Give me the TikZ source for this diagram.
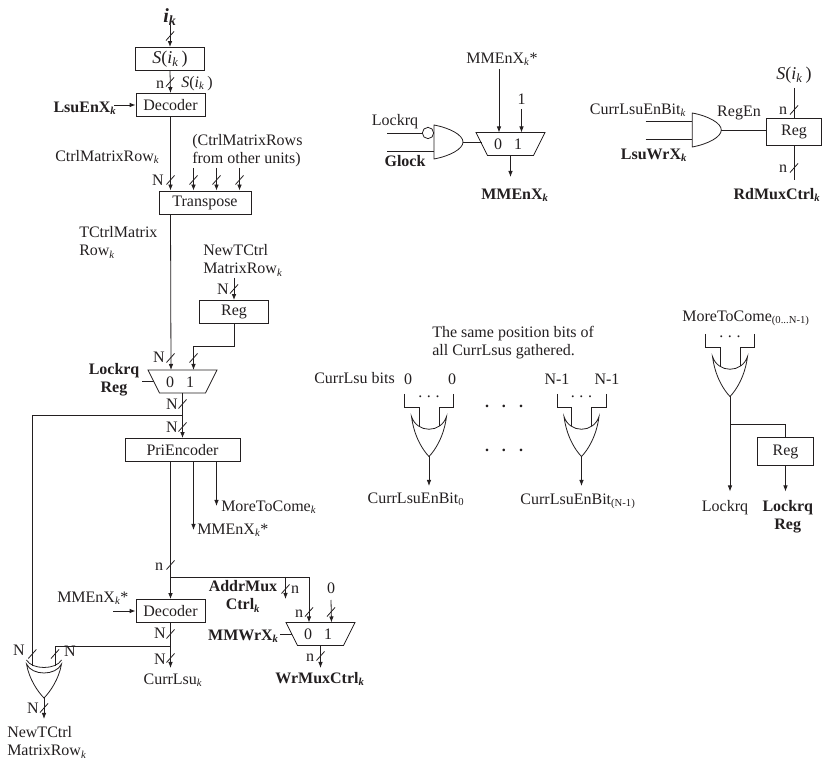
\documentclass[tikz,border=0pt]{standalone}
\usepackage{fontspec}
\setmainfont{Liberation Serif}
\usetikzlibrary{arrows.meta,calc}
\definecolor{ink}{RGB}{35,31,32}
\newcommand{\ksub}{\textsubscript{\itshape k}}
\newcommand{\sik}{\textit{S}(\textit{i}\ksub\,)}
\newcommand{\busslash}[1]{\draw[wire] ($(#1)+(-4,4.5)$) -- ($(#1)+(4,-4.5)$);}

\begin{document}
\begin{tikzpicture}[
    x=0.75pt, y=-0.75pt,
    font=\fontsize{12}{13.5}\selectfont,
    color=ink,
    >={Latex[length=4.5pt,width=3.4pt]},
    wire/.style={line width=0.6pt},
    arrow/.style={->, wire},
    unitbox/.style={draw, wire, inner sep=0pt, minimum width=51.75pt, minimum height=17.25pt},
    lbl/.style={inner sep=0pt, text height=8pt, text depth=0pt},
    llbl/.style={lbl, anchor=west},
    blbl/.style={lbl, font=\fontsize{12}{13.5}\selectfont\bfseries},
    twolines/.style={inner sep=0pt, align=left, anchor=west},
    boldtwo/.style={inner sep=0pt, align=center, font=\fontsize{12}{13.5}\selectfont\bfseries},
    inverted/.style={circle, draw, wire, inner sep=0pt, minimum size=8.5pt},
    mux/.pic={
        \draw[wire] (-34.5,0) -- (34.5,0) -- (23,23) -- (-23,23) -- cycle;
        \node[lbl] (-zero) at (-12.5,12) {0};
        \node[lbl] (-one) at (7.5,12) {1};
        \coordinate (-in0) at (-11.5,0);
        \coordinate (-in1) at (11,0);
        \coordinate (-out) at (0,23);
        \coordinate (-side) at (-29,11.5);
    },
    andgate/.pic={
        \draw[wire] (0,-17) .. controls (16,-14) and (29,-7) .. (29,0)
            .. controls (29,7) and (16,14) .. (0,17) -- cycle;
        \coordinate (-in1) at (0,-9);
        \coordinate (-in2) at (0,9);
        \coordinate (-out) at (29,0);
    },
    orgate/.pic={
        \draw[wire] (-17.5,0) .. controls (-12,17) and (12,17) .. (17.5,0)
            .. controls (15,20) and (6,34) .. (0,40)
            .. controls (-6,34) and (-15,20) .. (-17.5,0) -- cycle;
        \draw[wire] (-24.5,-22.5) -- (-24.5,-9) -- (-10,-9) -- (-10,10);
        \draw[wire] (24.5,-22.5) -- (24.5,-9) -- (10,-9) -- (10,10);
        \node[lbl] (-dots) at (0,-24) {.\hspace{3.5pt}.\hspace{3.5pt}.};
        \coordinate (-out) at (0,40);
    },
    widegate/.pic={
        \draw[wire] (-17.5,-1) .. controls (-12,9) and (12,9) .. (17.5,-1);
        \draw[wire] (-17.5,3) .. controls (-12,15) and (12,15) .. (17.5,3)
            .. controls (15,18) and (6,31) .. (0,37)
            .. controls (-6,31) and (-15,18) .. (-17.5,3) -- cycle;
        \coordinate (-in1) at (-11.7,5);
        \coordinate (-in2) at (11,5);
        \coordinate (-out) at (0,37);
    }
]
\useasboundingbox (0,0) rectangle (822,762);

% Index decode
\node[lbl, font=\fontsize{15}{16}\selectfont\bfseries\itshape] (ik) at (170,17) {i\ksub};
\coordinate (ikend) at (170,25);
\node[unitbox, font=\fontsize{13.5}{14}\selectfont] (sikbox) at (170,59) {\sik};
\node[unitbox] (decA) at (170.5,105) {Decoder};
\node[lbl] (nA) at (160,83) {n};
\node[lbl] (sikA) at (197,82) {\sik};
\node[blbl] (lsuen) at (85,107) {LsuEnX\ksub};
\coordinate (lsuenend) at (114,105);
\node[llbl] (ctrlrow) at (55,156) {CtrlMatrixRow\ksub};
\node[twolines] (others) at (192,150.5) {(CtrlMatrixRows\\from other units)};

% Transpose
\node[unitbox, minimum width=69pt] (transpose) at (205,202.5) {Transpose};
\coordinate (otherA) at (193.5,168);
\coordinate (otherB) at (216.5,168);
\coordinate (otherC) at (239.5,168);
\node[lbl] (nB) at (158,180) {N};
\node[twolines] (tctrl) at (79,242.5) {TCtrlMatrix\\Row\ksub};

% Lock register and first mux
\node[twolines] (newtctrl) at (203,260.5) {NewTCtrl\\MatrixRow\ksub};
\coordinate (newend) at (234,278);
\node[lbl] (nC) at (223,289) {N};
\node[unitbox] (regA) at (234,312) {Reg};
\coordinate (regbend) at (234,346.5);
\pic (muxA) at (182.5,370) {mux};
\node[lbl] (nD) at (159,357) {N};
\node[boldtwo] (lockreg) at (114,379.5) {Lockrq\\Reg};
\coordinate (selA) at (142,381.5);
\node[lbl] (nE) at (172,404) {N};
\node[lbl] (nF) at (172,427) {N};
\coordinate (branchL) at (182.5,415.5);

% Priority encoder
\node[unitbox, minimum width=86.25pt] (prienc) at (182.5,450) {PriEncoder};
\coordinate (addrbus) at (170.5,577);
\coordinate (mmtap) at (193.5,530);
\coordinate (moretap) at (216.5,506);
\node[llbl] (more) at (221,506) {MoreToCome\ksub};
\node[llbl] (mmstar) at (197,529) {MMEnX\ksub*};
\node[lbl] (nG) at (159,565) {n};

% Lower decoder and second mux
\node[unitbox] (decB) at (170.5,611) {Decoder};
\node[llbl] (mmstarB) at (57,597) {MMEnX\ksub*};
\coordinate (mmstarend) at (113,611);
\coordinate (addrtap) at (285.5,577);
\coordinate (addrout) at (285.5,599);
\coordinate (addrbend) at (309,577);
\node[lbl] (nH) at (295,588) {n};
\node[boldtwo] (addrmux) at (243,596.5) {AddrMux\\Ctrl\ksub};
\node[lbl] (zeroin) at (331,588) {0};
\coordinate (zeroend) at (331,600);
\node[lbl] (nI) at (299,612) {n};
\pic (muxB) at (320.5,622.5) {mux};
\node[blbl, anchor=east] (mmwr) at (279,635) {MMWrX\ksub};
\coordinate (selB) at (280,634);
\node[lbl] (nJ) at (310,656) {n};
\coordinate (wrend) at (320.5,668);
\node[blbl] (wrmux) at (320,678) {WrMuxCtrl\ksub};
\node[lbl] (nK) at (160,633) {N};
\node[lbl] (nL) at (160,659) {N};
\coordinate (branchR) at (170.5,646);
\coordinate (currend) at (170.5,668);
\node[lbl] (currlsu) at (173,679) {CurrLsu\ksub};

% Bottom left gate
\pic (orL) at (44,661) {widegate};
\node[lbl] (nM) at (19,650) {N};
\node[lbl] (nN) at (70,651) {N};
\node[lbl] (nO) at (33,708) {N};
\coordinate (newrowend) at (44,719);
\node[twolines] (newrow) at (7,742.5) {NewTCtrl\\MatrixRow\ksub};

% Top middle
\node[lbl] (mmtop) at (502,58) {MMEnX\ksub*};
\coordinate (mmtopend) at (499,69);
\node[lbl] (onein) at (521.5,99) {1};
\coordinate (oneend) at (521.5,109);
\pic (muxC) at (510.5,132.5) {mux};
\coordinate (mmxend) at (510.5,177);
\node[blbl] (mmx) at (515,194) {MMEnX\ksub};
\pic (andA) at (434,142) {andgate};
\node[inverted] (bubble) at (428,133) {};
\coordinate (lockin) at (387,133);
\coordinate (glockin) at (387,151);
\node[lbl] (lockrq) at (395,120) {Lockrq};
\node[blbl] (glock) at (405,161) {Glock};

% Top right
\node[lbl] (bitk) at (638,109) {CurrLsuEnBit\ksub};
\node[blbl] (lsuwr) at (654,154) {LsuWrX\ksub};
\node[lbl] (regen) at (739,111) {RegEn};
\pic (andB) at (692.3,130) {andgate};
\coordinate (bitin) at (645.7,121);
\coordinate (wrin) at (645.7,139);
\node[unitbox, minimum width=41.5pt, minimum height=20.5pt] (regB) at (794,132) {Reg};
\node[lbl, font=\fontsize{13.5}{14}\selectfont] (sikB) at (794,74) {\sik};
\coordinate (siktop) at (794,88);
\node[lbl] (nP) at (783,109) {n};
\node[lbl] (nQ) at (783,167) {n};
\coordinate (rdend) at (794,180);
\node[blbl] (rdmux) at (777,194) {RdMuxCtrl\ksub};

% Bit gathering
\node[twolines] (same) at (432,342.5) {The same position bits of\\all CurrLsus gathered.};
\node[lbl, anchor=east] (bits) at (395,378) {CurrLsu bits};
\node[lbl] (bitA) at (408,379) {0};
\node[lbl] (bitB) at (452,379) {0};
\node[lbl] (bitC) at (557,379) {N-1};
\node[lbl] (bitD) at (607,379) {N-1};
\pic (orA) at (429,416.5) {orgate};
\pic (orB) at (581.5,416.5) {orgate};
\coordinate (enAend) at (429,486);
\coordinate (enBend) at (581.5,486);
\node[lbl] (enA) at (416,498) {CurrLsuEnBit\textsubscript{0}};
\node[lbl] (enB) at (578,499) {CurrLsuEnBit\textsubscript{(N-1)}};
\node[blbl] (dotsA) at (504,402) {.\hspace{9.75pt}.\hspace{9.75pt}.};
\node[blbl] (dotsB) at (504,446) {.\hspace{9.75pt}.\hspace{9.75pt}.};

% More to come
\node[lbl] (moretop) at (746,316) {MoreToCome\textsubscript{(0...N-1)}};
\pic (orC) at (730,356.5) {orgate};
\coordinate (lockend) at (730,491.5);
\coordinate (lockbranch) at (730,424.5);
\node[unitbox, minimum width=41.5pt, minimum height=21pt] (regC) at (785.5,451.5) {Reg};
\coordinate (regCend) at (785.5,491.5);
\node[lbl] (lockout) at (725,506) {Lockrq};
\node[boldtwo] (lockregB) at (787.7,516.5) {Lockrq\\Reg};

% Arrows
\draw[arrow] (ikend) -- (sikbox.north);
\draw[arrow] (sikbox.south) -- (decA.north);
\draw[arrow] (lsuenend) -- (decA.west);
\draw[arrow] (decA.south) -- (decA.south |- transpose.north);
\draw[arrow] (otherA) -- (otherA |- transpose.north);
\draw[arrow] (otherB) -- (otherB |- transpose.north);
\draw[arrow] (otherC) -- (otherC |- transpose.north);
\draw[arrow] (decA.south |- transpose.south) -- (muxA-in0);
\draw[arrow] (newend) -- (regA.north);
\draw[arrow] (regA.south) -- (regbend) -| (muxA-in1);
\draw[wire] (selA) -- (muxA-side);
\draw[arrow] (muxA-out) -- (prienc.north);
\draw[wire] (branchL) -| (orL-in1);
\draw[wire] (addrbus |- prienc.south) -- (addrbus);
\draw[arrow] (mmtap |- prienc.south) -- (mmtap);
\draw[arrow] (moretap |- prienc.south) -- (moretap);
\draw[arrow] (addrbus) -- (decB.north);
\draw[arrow] (addrbus) -- (addrbend) -- (muxB-in0);
\draw[arrow] (addrtap) -- (addrout);
\draw[arrow] (mmstarend) -- (decB.west);
\draw[arrow] (zeroend) -- (muxB-in1);
\draw[wire] (selB) -- (muxB-side);
\draw[arrow] (muxB-out) -- (wrend);
\draw[arrow] (decB.south) -- (currend);
\draw[wire] (branchR) -| (orL-in2);
\draw[arrow] (orL-out) -- (newrowend);
\draw[arrow] (mmtopend) -- (mmtopend |- muxC-in0);
\draw[arrow] (oneend) -- (oneend |- muxC-in0);
\draw[arrow] (muxC-out) -- (mmxend);
\draw[wire] (lockin) -- (bubble.west);
\draw[wire] (glockin) -- (glockin -| andA-in2);
\draw[wire] (andA-out) -- (andA-out -| muxC-side);
\draw[wire] (bitin) -- (bitin -| andB-in1);
\draw[wire] (wrin) -- (wrin -| andB-in2);
\draw[wire] (andB-out) -- (andB-out -| regB.west);
\draw[wire] (siktop) -- (regB.north);
\draw[wire] (regB.south) -- (rdend);
\draw[arrow] (orA-out) -- (enAend);
\draw[arrow] (orB-out) -- (enBend);
\draw[arrow] (orC-out) -- (lockend);
\draw[wire] (lockbranch) -| (regC.north);
\draw[arrow] (regC.south) -- (regCend);

% Bus marks
\busslash{170,36}
\busslash{170,82}
\busslash{170.5,180}
\busslash{193.5,180}
\busslash{216.5,180}
\busslash{239.5,180}
\busslash{234,289}
\busslash{170.5,358}
\busslash{193.5,358}
\busslash{182.5,404}
\busslash{182.5,427}
\busslash{170.5,565}
\busslash{285.5,589}
\busslash{309,612}
\busslash{331,612}
\busslash{320.5,656}
\busslash{170.5,634}
\busslash{170.5,658}
\busslash{32.3,654}
\busslash{55,654}
\busslash{44,708}
\busslash{794,110}
\busslash{794,168}
\end{tikzpicture}
\end{document}
